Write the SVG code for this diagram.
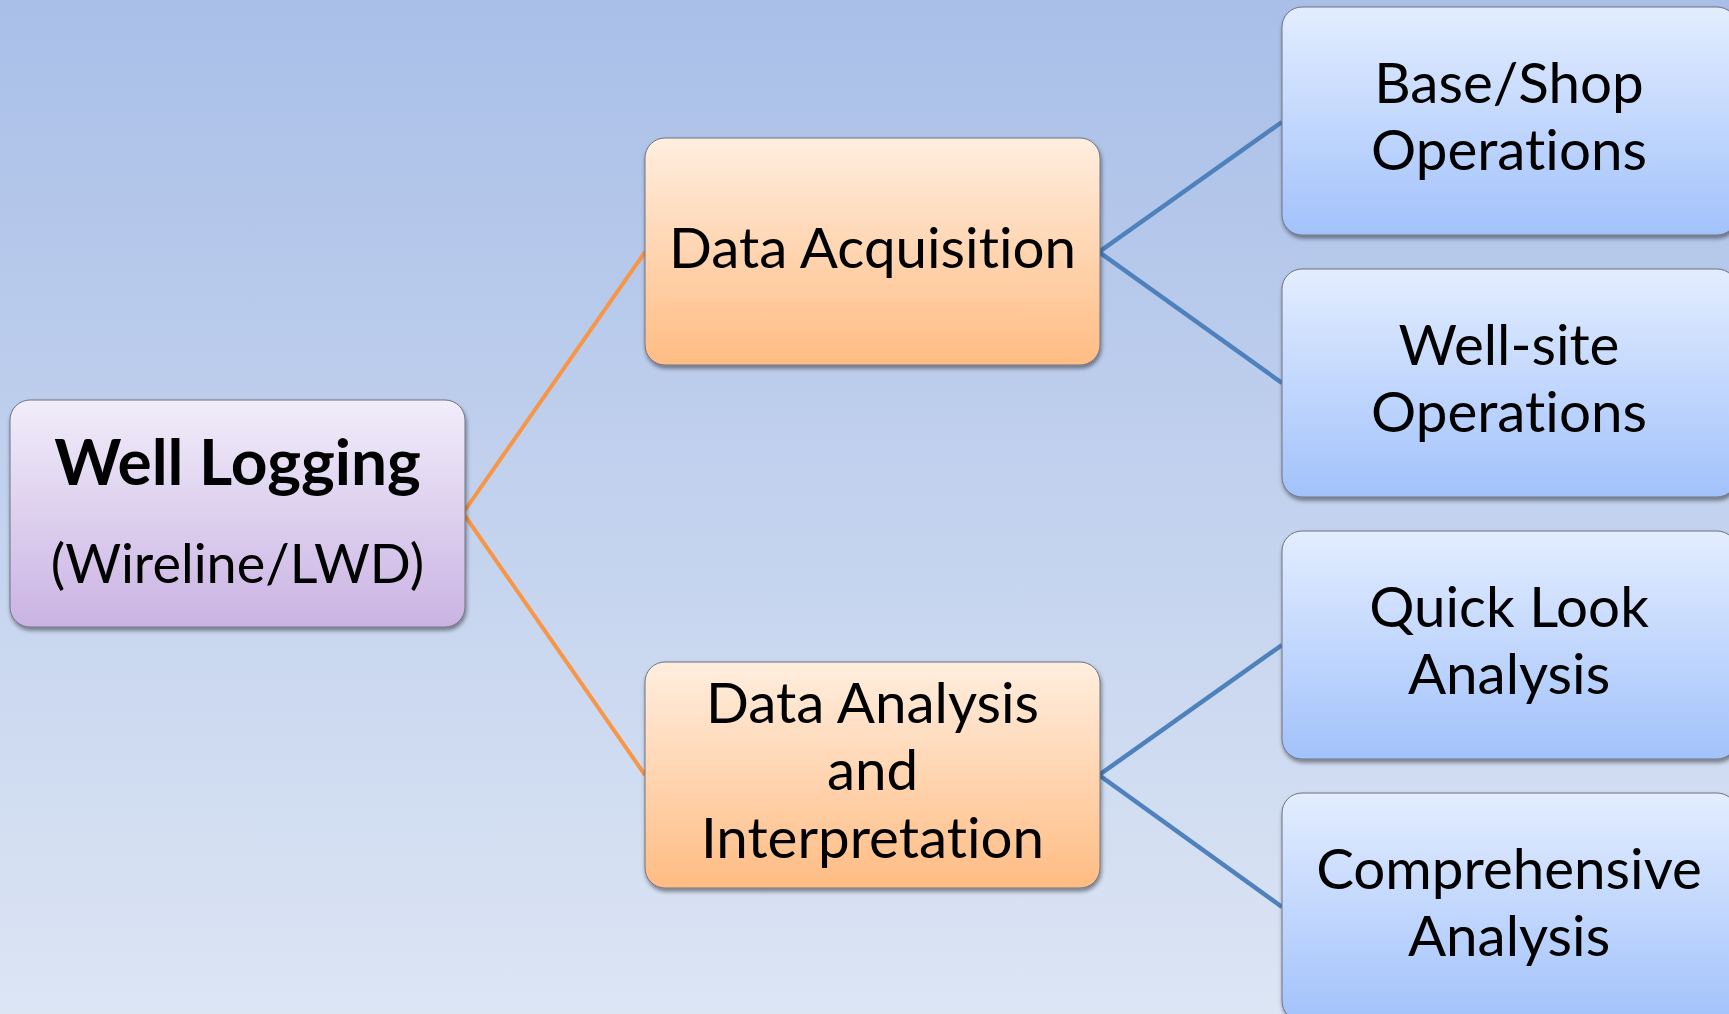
<svg xmlns="http://www.w3.org/2000/svg" width="1729" height="1014" viewBox="0 0 1729 1014">
  <defs>
    <linearGradient id="bg" x1="0" y1="0" x2="0" y2="1">
      <stop offset="0" stop-color="#a9bfe8"/>
      <stop offset="1" stop-color="#dce5f4"/>
    </linearGradient>
    <linearGradient id="gPurple" x1="0" y1="0" x2="0" y2="1">
      <stop offset="0" stop-color="#f1edfa"/>
      <stop offset="1" stop-color="#cab3e3"/>
    </linearGradient>
    <linearGradient id="gOrange" x1="0" y1="0" x2="0" y2="1">
      <stop offset="0" stop-color="#ffeedf"/>
      <stop offset="1" stop-color="#ffbc83"/>
    </linearGradient>
    <linearGradient id="gBlue" x1="0" y1="0" x2="0" y2="1">
      <stop offset="0" stop-color="#e3edff"/>
      <stop offset="1" stop-color="#a2c2fb"/>
    </linearGradient>
    <filter id="shadow" x="-5%" y="-5%" width="112%" height="115%">
      <feDropShadow dx="1" dy="3" stdDeviation="2" flood-color="#000" flood-opacity="0.45"/>
    </filter>
  </defs>
  <style>
    .box { stroke: #6f7480; stroke-width: 1; filter: url(#shadow); }
    .purple { fill: url(#gPurple); }
    .orange { fill: url(#gOrange); }
    .blue { fill: url(#gBlue); }
    text { font-family: Lato, "Open Sans", sans-serif; fill: #000; text-anchor: middle; font-variant-ligatures: none; }
    .t { font-size: 56.5px; }
    .ts { font-size: 54px; }
    .tb { font-size: 64px; font-weight: bold; }
    .wire-o { stroke: #f79646; stroke-width: 4; fill: none; stroke-linejoin: miter; }
    .wire-b { stroke: #4f81bd; stroke-width: 4.5; fill: none; stroke-linejoin: miter; }
  </style>

  <rect x="0" y="0" width="1729" height="1014" fill="url(#bg)"/>

  <!-- connectors -->
  <g id="connectors">
    <polyline class="wire-o" points="645,252 463,513 645,775"/>
    <polyline class="wire-b" points="1282,122 1099,252 1282,383"/>
    <polyline class="wire-b" points="1282,645 1099,775 1282,907"/>
  </g>

  <!-- root -->
  <g id="well-logging">
    <rect class="box purple" x="10" y="400" width="455" height="227" rx="20"/>
    <text class="tb" x="237.5" y="485">Well Logging</text>
    <text class="ts" x="237.5" y="583">(Wireline/LWD)</text>
  </g>

  <!-- second level -->
  <g id="data-acquisition">
    <rect class="box orange" x="645" y="138" width="455" height="227" rx="20"/>
    <text class="t" x="872.5" y="268">Data Acquisition</text>
  </g>
  <g id="data-analysis">
    <rect class="box orange" x="645" y="662" width="455" height="226" rx="20"/>
    <text class="t" x="872.5" y="723">Data Analysis</text>
    <text class="t" x="872.5" y="790">and</text>
    <text class="t" x="872.5" y="858">Interpretation</text>
  </g>

  <!-- third level -->
  <g id="base-shop">
    <rect class="box blue" x="1282" y="7" width="455" height="228" rx="20"/>
    <text class="t" x="1509" y="103">Base/Shop</text>
    <text class="t" x="1509" y="170">Operations</text>
  </g>
  <g id="well-site">
    <rect class="box blue" x="1282" y="269" width="455" height="228" rx="20"/>
    <text class="t" x="1509" y="365">Well-site</text>
    <text class="t" x="1509" y="432">Operations</text>
  </g>
  <g id="quick-look">
    <rect class="box blue" x="1282" y="531" width="455" height="228" rx="20"/>
    <text class="t" x="1509" y="627">Quick Look</text>
    <text class="t" x="1509" y="694">Analysis</text>
  </g>
  <g id="comprehensive">
    <rect class="box blue" x="1282" y="793" width="455" height="228" rx="20"/>
    <text class="t" x="1509" y="889">Comprehensive</text>
    <text class="t" x="1509" y="956">Analysis</text>
  </g>
</svg>
